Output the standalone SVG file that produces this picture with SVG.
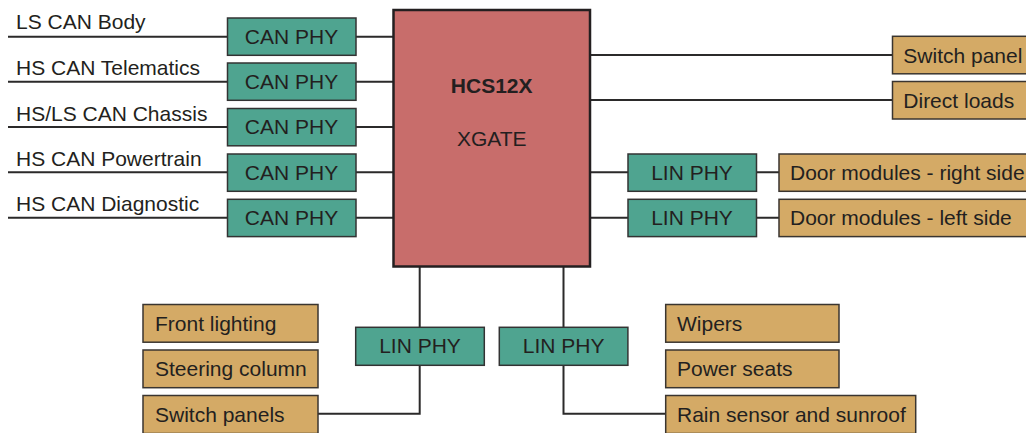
<svg xmlns="http://www.w3.org/2000/svg" width="1026" height="433" viewBox="0 0 1026 433">
<style>
  .conn { fill: none; stroke: #2b2a2a; stroke-width: 2; }
  .phy { fill: #4fa490; stroke: #333; stroke-width: 1.5; }
  .load { fill: #d4aa66; stroke: #3a3530; stroke-width: 1.5; }
  .mcu { fill: #c86d6b; stroke: #231f20; stroke-width: 2.5; }
  text { font-family: "Liberation Sans", Arial, sans-serif; font-size: 21px; fill: #231f20; }
  .c { text-anchor: middle; }
  .b { font-weight: bold; }
</style>
<rect width="1026" height="433" fill="#ffffff"/>
<g id="connectors">
  <path class="conn" d="M8,36.7 H227 M356,36.7 H393"/>
  <path class="conn" d="M8,81.7 H227 M356,81.7 H393"/>
  <path class="conn" d="M8,127 H227 M356,127 H393"/>
  <path class="conn" d="M8,172.3 H227 M356,172.3 H393"/>
  <path class="conn" d="M8,217.7 H227 M356,217.7 H393"/>
  <path class="conn" d="M590,55 H892"/>
  <path class="conn" d="M590,100 H892"/>
  <path class="conn" d="M590,172.3 H628 M756,172.3 H779"/>
  <path class="conn" d="M590,217.7 H628 M756,217.7 H779"/>
  <path class="conn" d="M419.7,266 V327.3 M419.7,365.3 V413.7 H318"/>
  <path class="conn" d="M563.5,266 V327.3 M563.5,365.3 V413.7 H665.7"/>
</g>
<g id="label-ls-can-body"><text x="16" y="29">LS CAN Body</text></g>
<g id="label-hs-can-telematics"><text x="16" y="75">HS CAN Telematics</text></g>
<g id="label-hsls-can-chassis"><text x="16" y="120.7">HS/LS CAN Chassis</text></g>
<g id="label-hs-can-powertrain"><text x="16" y="166">HS CAN Powertrain</text></g>
<g id="label-hs-can-diagnostic"><text x="16" y="210.7">HS CAN Diagnostic</text></g>
<g id="can-phy-1"><rect class="phy" x="227.5" y="18" width="128.5" height="37.3"/><text class="c" x="291.5" y="43.5">CAN PHY</text></g>
<g id="can-phy-2"><rect class="phy" x="227.5" y="63" width="128.5" height="37.3"/><text class="c" x="291.5" y="88.5">CAN PHY</text></g>
<g id="can-phy-3"><rect class="phy" x="227.5" y="108.5" width="128.5" height="37.3"/><text class="c" x="291.5" y="134">CAN PHY</text></g>
<g id="can-phy-4"><rect class="phy" x="227.5" y="154" width="128.5" height="37.3"/><text class="c" x="291.5" y="179.5">CAN PHY</text></g>
<g id="can-phy-5"><rect class="phy" x="227.5" y="199.3" width="128.5" height="37.3"/><text class="c" x="291.5" y="224.8">CAN PHY</text></g>
<g id="hcs12x"><rect class="mcu" x="393.5" y="10" width="196.5" height="256.5"/><text class="c b" x="491.7" y="92.7">HCS12X</text><text class="c" x="491.7" y="145.7">XGATE</text></g>
<g id="switch-panel"><rect class="load" x="892.5" y="36.3" width="140" height="37.5"/><text x="903.3" y="62.7">Switch panel</text></g>
<g id="direct-loads"><rect class="load" x="892.5" y="81.5" width="140" height="37.5"/><text x="903.3" y="107.7">Direct loads</text></g>
<g id="lin-phy-r1"><rect class="phy" x="628" y="154" width="128.5" height="37.3"/><text class="c" x="692" y="179.5">LIN PHY</text></g>
<g id="lin-phy-r2"><rect class="phy" x="628" y="199.3" width="128.5" height="37.3"/><text class="c" x="692" y="224.8">LIN PHY</text></g>
<g id="door-right"><rect class="load" x="779" y="154" width="255" height="37.3"/><text x="790" y="179.5">Door modules - right side</text></g>
<g id="door-left"><rect class="load" x="779" y="199.3" width="255" height="37.3"/><text x="790" y="224.8">Door modules - left side</text></g>
<g id="front-lighting"><rect class="load" x="143" y="304.5" width="175" height="37.7"/><text x="155" y="330.5">Front lighting</text></g>
<g id="steering-column"><rect class="load" x="143" y="350" width="175" height="37.7"/><text x="155" y="376">Steering column</text></g>
<g id="switch-panels"><rect class="load" x="143" y="395.5" width="175" height="38"/><text x="155" y="421.5">Switch panels</text></g>
<g id="lin-phy-b1"><rect class="phy" x="355.7" y="327.3" width="128.6" height="38"/><text class="c" x="420" y="353">LIN PHY</text></g>
<g id="lin-phy-b2"><rect class="phy" x="499.3" y="327.3" width="128.6" height="38"/><text class="c" x="563.6" y="353">LIN PHY</text></g>
<g id="wipers"><rect class="load" x="665.7" y="304.5" width="173.3" height="37.7"/><text x="677" y="330.5">Wipers</text></g>
<g id="power-seats"><rect class="load" x="665.7" y="350" width="173.3" height="37.7"/><text x="677" y="376">Power seats</text></g>
<g id="rain-sensor"><rect class="load" x="665.7" y="395.5" width="250" height="38"/><text x="677" y="421.5">Rain sensor and sunroof</text></g>
</svg>
